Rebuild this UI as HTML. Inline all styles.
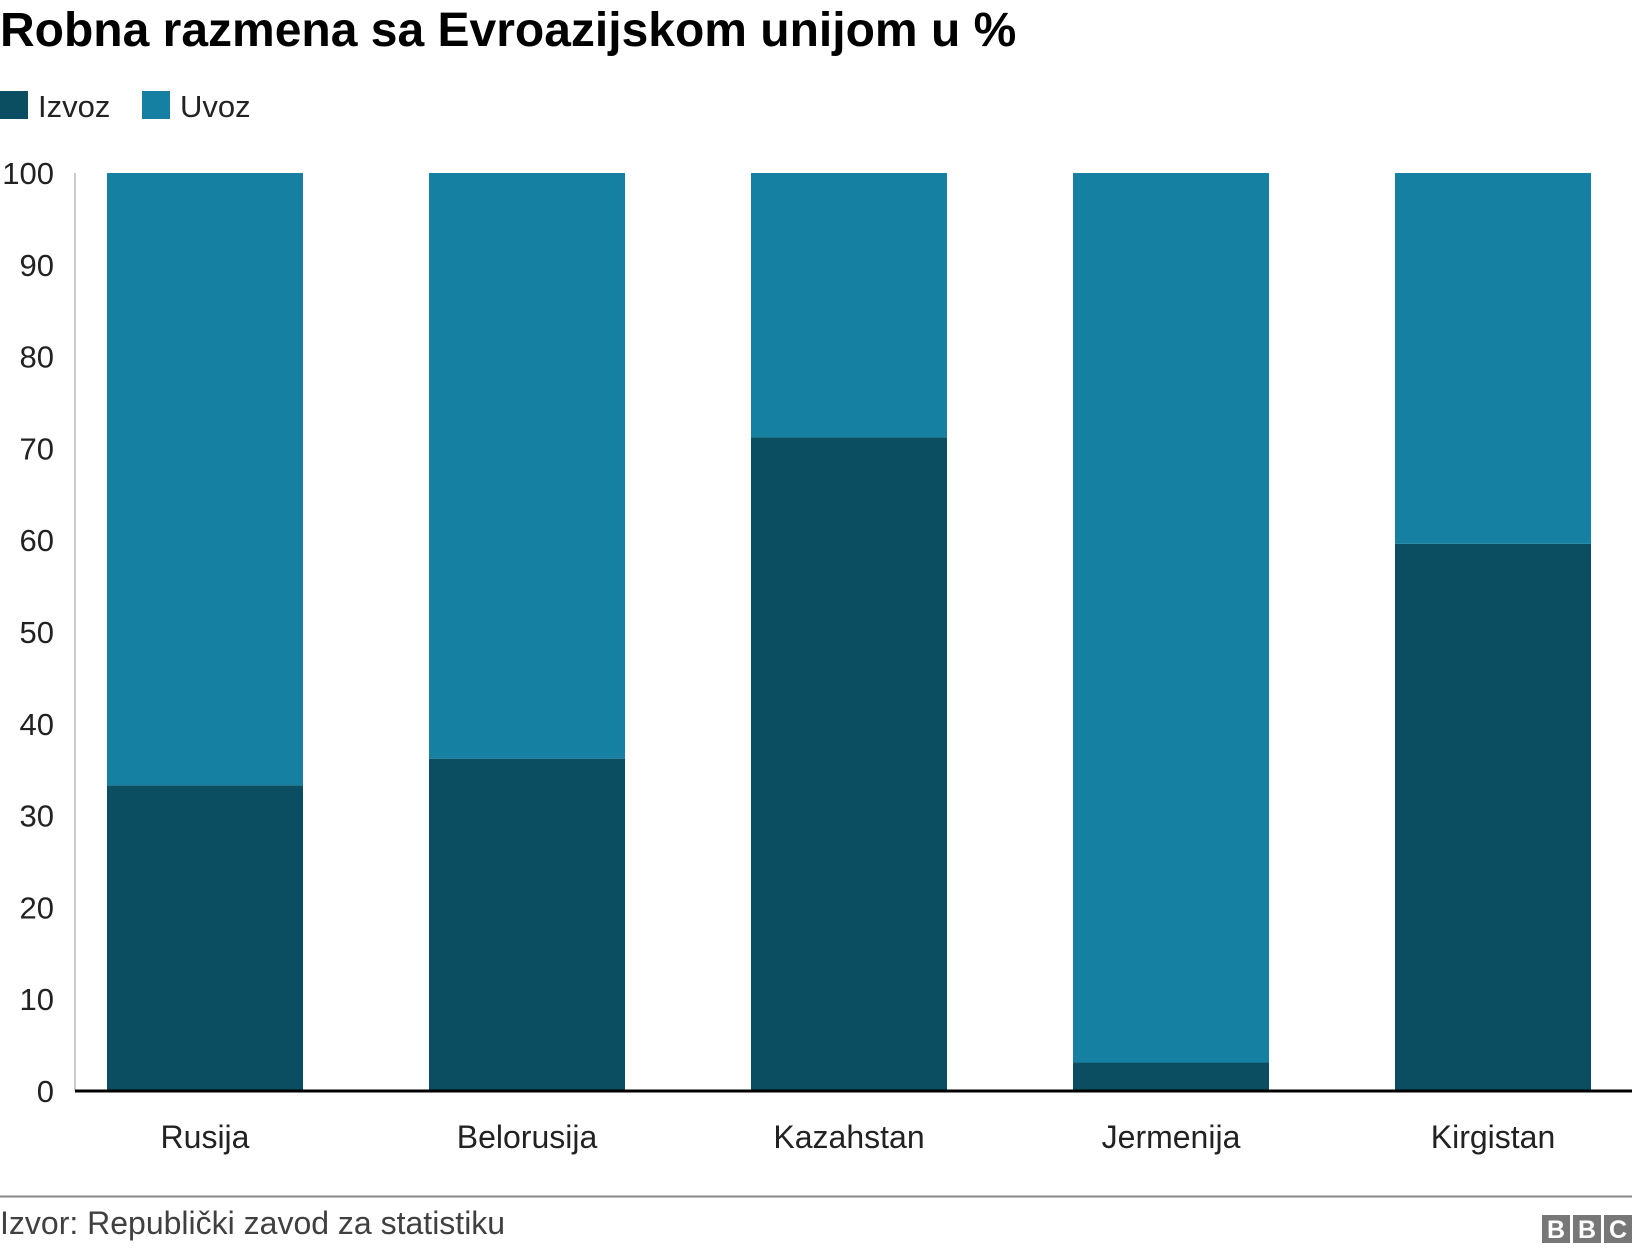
<!DOCTYPE html>
<html><head><meta charset="utf-8"><style>
body{margin:0;width:1632px;height:1252px;background:#fff;font-family:"Liberation Sans",Arial,sans-serif;overflow:hidden;position:relative}
</style></head><body>
<svg width="1632" height="1252" style="position:absolute;left:0;top:0">
<text x="0" y="46" font-size="48" font-weight="bold" fill="#000">Robna razmena sa Evroazijskom unijom u %</text>
<g>
<rect x="0" y="91" width="28" height="28" fill="#0b4e61"/>
<text x="38" y="117" font-size="31" fill="#222">Izvoz</text>
<rect x="142" y="91" width="28" height="28" fill="#1580a1"/>
<text x="180" y="117" font-size="31" fill="#222">Uvoz</text>
</g>
<g id="plot"></g>
<line x1="0" y1="1196.5" x2="1632" y2="1196.5" stroke="#888" stroke-width="2"/>
<text x="0" y="1234" font-size="32" fill="#404040">Izvor: Republički zavod za statistiku</text>
<g>
<rect x="1542" y="1215" width="28" height="28" fill="#777"/><text x="1556" y="1238" font-size="25" font-weight="bold" fill="#fff" text-anchor="middle">B</text>
<rect x="1573" y="1215" width="28" height="28" fill="#777"/><text x="1587" y="1238" font-size="25" font-weight="bold" fill="#fff" text-anchor="middle">B</text>
<rect x="1604" y="1215" width="28" height="28" fill="#777"/><text x="1618" y="1238" font-size="25" font-weight="bold" fill="#fff" text-anchor="middle">C</text>
</g>
</svg>
<script>
const categories=["Rusija","Belorusija","Kazahstan","Jermenija","Kirgistan"];
const izvoz=[33.3,36.2,71.2,3.1,59.6];
const uvoz=[66.7,63.8,28.8,96.9,40.4];
const yTicks=[0,10,20,30,40,50,60,70,80,90,100];
const NS="http://www.w3.org/2000/svg";
const g=document.getElementById('plot');
const y0=1091,y100=173,left=75,step=322,barW=196,firstX=107;
const y=v=>y0-(v/100)*(y0-y100);
const xb=i=>firstX+i*step;
function el(t,a){const e=document.createElementNS(NS,t);for(const k in a)e.setAttribute(k,a[k]);g.appendChild(e);return e;}
const ax=el('line',{x1:left,y1:y100,x2:left,y2:y0,stroke:'#ccc','stroke-width':2});


yTicks.forEach(t=>{
 const tx=el('text',{x:54,y:y(t)+11,'font-size':31,'text-anchor':'end',fill:'#222'});
 tx.textContent=t;
 
 
});
categories.forEach((c,i)=>{
 const r1=el('rect',{x:xb(i),y:y(izvoz[i]),width:barW,height:y0-y(izvoz[i]),fill:'#0b4e61'});
 
 
 const top=izvoz[i]+uvoz[i];
 const r2=el('rect',{x:xb(i),y:y(top),width:barW,height:y(izvoz[i])-y(top),fill:'#1580a1'});
 
 
 const t=el('text',{x:xb(i)+barW/2,y:1148,'font-size':32,'text-anchor':'middle',fill:'#222'});
 t.textContent=c;
 
 
});
const base=el('line',{x1:left,y1:y0,x2:1632,y2:y0,stroke:'#000','stroke-width':3});


</script>
</body></html>
